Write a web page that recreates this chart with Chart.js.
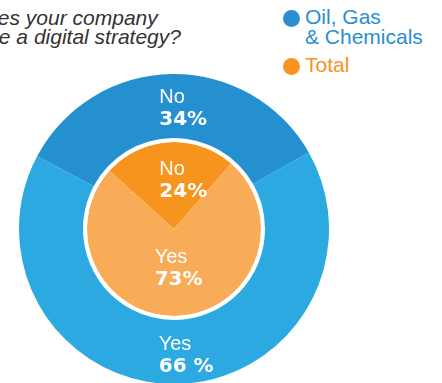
<!DOCTYPE html>
<html>
<head>
<meta charset="utf-8">
<script src="https://cdn.jsdelivr.net/npm/chart.js@4.4.1/dist/chart.umd.min.js"></script>
<style>
  html, body { margin: 0; padding: 0; background: #fff; }
  body { width: 442px; height: 383px; position: relative; overflow: hidden; font-family: "Liberation Sans", Arial, sans-serif; }
  .title { position: absolute; left: 0; top: 8px; font-style: italic; font-size: 21px; color: #333; white-space: nowrap; line-height: 19px; }
  .title div { position: relative; }
  .legend { position: absolute; left: 283px; top: 7px; font-size: 21px; line-height: 20px; }
  .legend .item { position: relative; padding-left: 22px; margin-bottom: 8px; }
  .legend .dot { position: absolute; left: 0; top: 3px; width: 17px; height: 17px; border-radius: 50%; }
  #wrap { position: absolute; left: 19px; top: 74px; width: 310px; height: 310px; }
</style>
</head>
<body>
<div class="title" id="title"></div>
<div class="legend" id="legend"></div>
<div id="wrap"><canvas id="chart" width="310" height="310"></canvas></div>
<script>
const titleLines = ['Does your company', 'have a digital strategy?'];
const seriesNames = [['Oil, Gas', '& Chemicals'], ['Total']];
const categories = ['No', 'Yes'];
const oilGas = [34, 66];
const total = [24, 73];
const oilGasText = ['34%', '66 %'];
const totalText = ['24%', '73%'];

const blueDark = '#2490cf', blueLight = '#2da9e1';
const orangeDark = '#f7941e', orangeLight = '#f9ac57';
const legendColors = ['#2a8fce', '#f7931e'];

// title, cut off on the left like the source
const titleShift = [-29, -35];
const t = document.getElementById('title');
titleLines.forEach((s, i) => {
  const d = document.createElement('div');
  d.textContent = s;
  d.style.left = titleShift[i] + 'px';
  t.appendChild(d);
});

// legend
const lg = document.getElementById('legend');
seriesNames.forEach((lines, i) => {
  const it = document.createElement('div');
  it.className = 'item';
  it.style.color = legendColors[i];
  it.innerHTML = '<span class="dot" style="background:' + legendColors[i] + '"></span>' + lines.join('<br>');
  lg.appendChild(it);
});

// label offsets from each arc's centre point: [dx, dy of first baseline]
const offsets = [
  [[-13, -3], [-17, -2]],
  null,
  [[-12, -11], [-22, -9]]
];
const texts = [oilGasText, null, totalText];

const labelsPlugin = {
  id: 'arcLabels',
  afterDatasetsDraw(chart) {
    const ctx = chart.ctx;
    ctx.save();
    ctx.fillStyle = '#fff';
    ctx.textAlign = 'left';
    ctx.textBaseline = 'alphabetic';
    chart.data.datasets.forEach((ds, di) => {
      if (!texts[di]) return;
      chart.getDatasetMeta(di).data.forEach((arc, i) => {
        const p = arc.tooltipPosition();
        const x = p.x + offsets[di][i][0];
        const y = p.y + offsets[di][i][1];
        ctx.font = '20px "Liberation Sans", Arial, sans-serif';
        ctx.fillText(categories[i], x, y);
        ctx.font = 'bold 20px "DejaVu Sans", sans-serif';
        ctx.fillText(texts[di][i], x, y + 22);
      });
    });
    ctx.restore();
  }
};

new Chart(document.getElementById('chart'), {
  type: 'doughnut',
  data: {
    labels: categories,
    datasets: [
      { data: oilGas, backgroundColor: [blueDark, blueLight], rotation: -62, weight: 64, borderWidth: 0 },
      { data: [1], backgroundColor: ['#ffffff'], weight: 4, borderWidth: 0 },
      { data: total, backgroundColor: [orangeDark, orangeLight], rotation: -48, weight: 87, borderWidth: 0 }
    ]
  },
  options: {
    responsive: false,
    animation: false,
    cutout: 0,
    layout: { padding: 0 },
    plugins: { legend: { display: false }, tooltip: { enabled: false } }
  },
  plugins: [labelsPlugin]
});
</script>
</body>
</html>
